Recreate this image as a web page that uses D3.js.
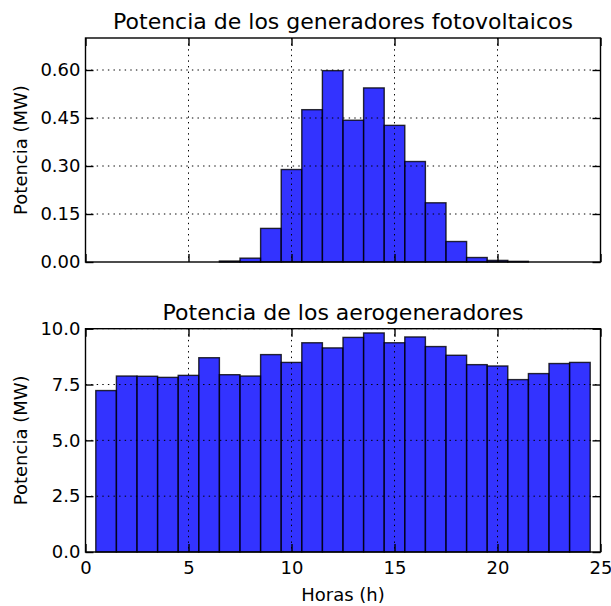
<!DOCTYPE html>
<html>
<head>
<meta charset="utf-8">
<script src="https://cdn.jsdelivr.net/npm/d3@7/dist/d3.min.js"></script>
<style>
  body { margin: 0; background: #fff; }
  text { font-family: "DejaVu Sans", sans-serif; fill: #000; }
</style>
</head>
<body>
<script>
// hourly data, bars centred on each hour
var horas = d3.range(1, 25);
var solar = [0, 0, 0, 0, 0, 0, 0.003, 0.012, 0.105, 0.289, 0.476, 0.598,
             0.443, 0.544, 0.427, 0.314, 0.185, 0.064, 0.014, 0.005, 0.002, 0, 0, 0];
var eolica = [7.23, 7.88, 7.87, 7.82, 7.91, 8.70, 7.94, 7.88, 8.84, 8.49, 9.37, 9.14,
              9.61, 9.81, 9.37, 9.63, 9.20, 8.81, 8.39, 8.33, 7.72, 7.99, 8.44, 8.49];
var xTicks = [0, 5, 10, 15, 20, 25];
var solarTicks = [0, 0.15, 0.30, 0.45, 0.60];
var eolicaTicks = [0, 2.5, 5.0, 7.5, 10.0];

var width = 611, height = 606;
var left = 85.5, right = 600.5;

var svg = d3.select("body").append("svg")
  .attr("width", width)
  .attr("height", height);

var x = d3.scaleLinear().domain([0, 25]).range([left, right]);

function panel(opts) {
  var y = d3.scaleLinear().domain(opts.domain).range([opts.bottom, opts.top]);
  var g = svg.append("g");

  // bars
  g.selectAll("rect.bar")
    .data(opts.values)
    .enter().append("rect")
    .attr("class", "bar")
    .attr("x", function(d, i) { return x(horas[i] - 0.5); })
    .attr("width", function(d, i) { return x(horas[i] + 0.5) - x(horas[i] - 0.5); })
    .attr("y", function(d) { return y(d); })
    .attr("height", function(d) { return y(0) - y(d); })
    .attr("fill", "#0000ff")
    .attr("fill-opacity", 0.8)
    .attr("stroke", "#000")
    .attr("stroke-opacity", 0.8)
    .attr("stroke-width", 1.4);

  // grid on top of bars
  g.selectAll("line.gx")
    .data(xTicks.slice(1, -1))
    .enter().append("line")
    .attr("x1", function(d) { return x(d); })
    .attr("x2", function(d) { return x(d); })
    .attr("y1", opts.top).attr("y2", opts.bottom)
    .attr("stroke", "#000").attr("stroke-width", 1)
    .attr("stroke-dasharray", "1.4,4.2");
  g.selectAll("line.gy")
    .data(opts.ticks.slice(1))
    .enter().append("line")
    .attr("x1", left).attr("x2", right)
    .attr("y1", function(d) { return y(d); })
    .attr("y2", function(d) { return y(d); })
    .attr("stroke", "#000").attr("stroke-width", 1)
    .attr("stroke-dasharray", "1.4,4.2");

  // axes with inward ticks on all four sides
  var tk = 8;
  var axB = d3.axisBottom(x).tickValues(xTicks).tickSizeInner(-tk).tickSizeOuter(0)
    .tickPadding(9).tickFormat(opts.showX ? d3.format("d") : "");
  var axT = d3.axisTop(x).tickValues(xTicks).tickSizeInner(-tk).tickSizeOuter(0).tickFormat("");
  var axL = d3.axisLeft(y).tickValues(opts.ticks).tickSizeInner(-tk).tickSizeOuter(0)
    .tickPadding(5).tickFormat(d3.format(opts.fmt));
  var axR = d3.axisRight(y).tickValues(opts.ticks).tickSizeInner(-tk).tickSizeOuter(0).tickFormat("");

  [[axB, "translate(0," + opts.bottom + ")"], [axT, "translate(0," + opts.top + ")"],
   [axL, "translate(" + left + ",0)"], [axR, "translate(" + right + ",0)"]].forEach(function(a) {
    var ag = g.append("g").attr("transform", a[1]).call(a[0]);
    ag.select(".domain").remove();
    ag.selectAll("line").attr("stroke", "#000").attr("stroke-width", 1.4);
    ag.selectAll("text").style("font-size", "18px").style("font-family", "DejaVu Sans");
  });

  g.append("rect")
    .attr("x", left).attr("y", opts.top)
    .attr("width", right - left).attr("height", opts.bottom - opts.top)
    .attr("fill", "none").attr("stroke", "#000").attr("stroke-width", 1.4);

  g.append("text")
    .attr("x", (left + right) / 2).attr("y", opts.titleY)
    .attr("text-anchor", "middle")
    .style("font-size", "22px")
    .text(opts.title);

  g.append("text")
    .attr("transform", "translate(27," + (opts.top + opts.bottom) / 2 + ") rotate(-90)")
    .attr("text-anchor", "middle")
    .style("font-size", "18px")
    .text("Potencia (MW)");
}

panel({
  values: solar, domain: [0, 0.7], ticks: solarTicks, fmt: ".2f",
  top: 38, bottom: 262, showX: false, titleY: 29,
  title: "Potencia de los generadores fotovoltaicos"
});

panel({
  values: eolica, domain: [0, 10], ticks: eolicaTicks, fmt: ".1f",
  top: 328.7, bottom: 552, showX: true, titleY: 320,
  title: "Potencia de los aerogeneradores"
});

svg.append("text")
  .attr("x", (left + right) / 2).attr("y", 601)
  .attr("text-anchor", "middle")
  .style("font-size", "18px")
  .text("Horas (h)");
</script>
</body>
</html>
